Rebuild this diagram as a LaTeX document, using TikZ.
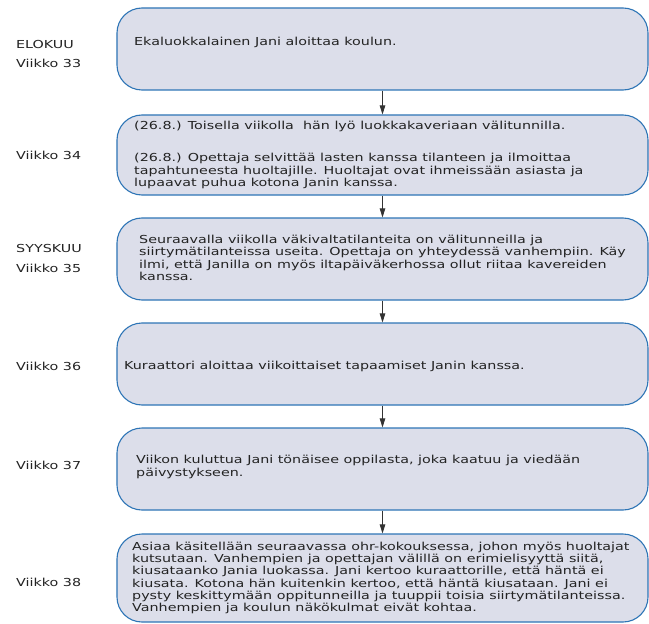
\documentclass[tikz,border=0pt]{standalone}
\usepackage{fontspec}
\setmainfont[FakeStretch=1.3]{DejaVu Sans}
\usetikzlibrary{arrows.meta}
\definecolor{boxfill}{RGB}{220,222,234}
\definecolor{boxline}{RGB}{46,117,182}
\definecolor{txt}{RGB}{35,35,35}
\newcommand\evtightlines{\lineskiplimit=-100pt\relax\lineskip=0pt\relax}
\newcommand\evfont{\fontsize{11bp}{12.25bp}\selectfont\evtightlines}
\tikzset{
  evbox/.style={draw=boxline, fill=boxfill, line width=1.1bp, rounded corners=25bp,
    minimum width=531bp, inner sep=0pt, shape=rectangle},
  evtext/.style={anchor=west, inner sep=0pt, align=left, text=txt, font=\evfont},
  wklabel/.style={anchor=west, inner sep=0pt, text=txt, font=\evfont},
  flow/.style={draw=black!80, line width=0.9bp, -{Triangle[length=9bp,width=5.5bp]}}
}
\begin{document}
\begin{tikzpicture}[x=1bp,y=-1bp]
\useasboundingbox (0,0) rectangle (649,624);
% boxes
\node[evbox, minimum height=82bp] (b1) at (382.5,49) {};
\node[evbox, minimum height=80bp] (b2) at (382.5,155) {};
\node[evbox, minimum height=82bp] (b3) at (382.5,259) {};
\node[evbox, minimum height=82bp] (b4) at (382.5,364) {};
\node[evbox, minimum height=82bp] (b5) at (382.5,469) {};
\node[evbox, minimum height=88bp] (b6) at (382.5,578) {};
% connectors
\draw[flow] (b1.south) -- (b2.north);
\draw[flow] (b2.south) -- (b3.north);
\draw[flow] (b3.south) -- (b4.north);
\draw[flow] (b4.south) -- (b5.north);
\draw[flow] (b5.south) -- (b6.north);
% box texts
\node[evtext] (t1) at (134,42) {Ekaluokkalainen Jani aloittaa koulun.};
\node[evtext] (t2a) at (134,126) {(26.8.) Toisella viikolla\ \ hän lyö luokkakaveriaan välitunnilla.};
\node[evtext] (t2b) at (134,171) {(26.8.) Opettaja selvittää lasten kanssa tilanteen ja ilmoittaa\\tapahtuneesta huoltajille. Huoltajat ovat ihmeissään asiasta ja\\lupaavat puhua kotona Janin kanssa.};
\node[evtext] (t3) at (139,258) {Seuraavalla viikolla väkivaltatilanteita on välitunneilla ja\\siirtymätilanteissa useita. Opettaja on yhteydessä vanhempiin. Käy\\ilmi, että Janilla on myös iltapäiväkerhossa ollut riitaa kavereiden\\kanssa.};
\node[evtext] (t4) at (124,366) {Kuraattori aloittaa viikoittaiset tapaamiset Janin kanssa.};
\node[evtext] (t5) at (136,467) {Viikon kuluttua Jani tönäisee oppilasta, joka kaatuu ja viedään\\päivystykseen.};
\node[evtext] (t6) at (132,578) {Asiaa käsitellään seuraavassa ohr-kokouksessa, johon myös huoltajat\\kutsutaan. Vanhempien ja opettajan välillä on erimielisyyttä siitä,\\kiusataanko Jania luokassa. Jani kertoo kuraattorille, että häntä ei\\kiusata. Kotona hän kuitenkin kertoo, että häntä kiusataan. Jani ei\\pysty keskittymään oppitunneilla ja tuuppii toisia siirtymätilanteissa.\\Vanhempien ja koulun näkökulmat eivät kohtaa.};
% week labels
\node[wklabel] (m1) at (16,44) {ELOKUU};
\node[wklabel] (w33) at (16,63) {Viikko 33};
\node[wklabel] (w34) at (16,155) {Viikko 34};
\node[wklabel] (m2) at (16,248) {SYYSKUU};
\node[wklabel] (w35) at (16,268) {Viikko 35};
\node[wklabel] (w36) at (16,366) {Viikko 36};
\node[wklabel] (w37) at (16,465) {Viikko 37};
\node[wklabel] (w38) at (16,582) {Viikko 38};
\end{tikzpicture}
\end{document}
